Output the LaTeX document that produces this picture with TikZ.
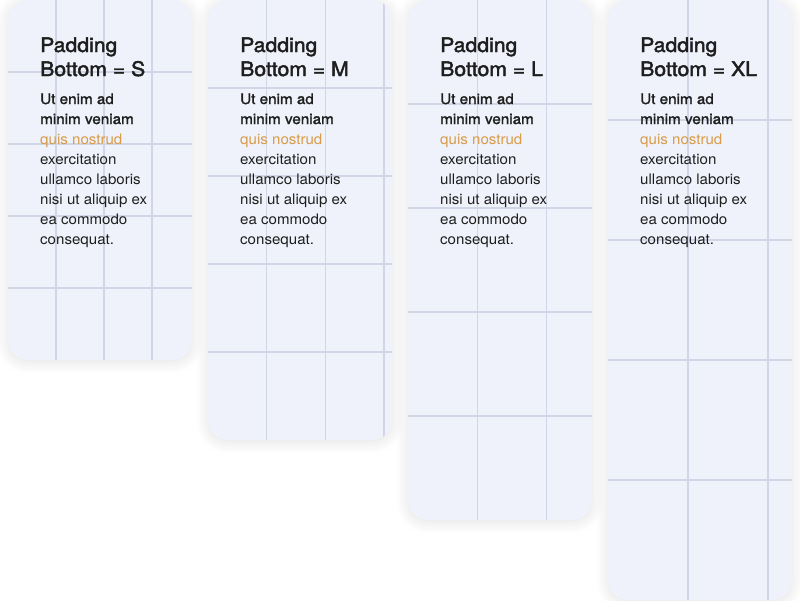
\documentclass[tikz,border=0pt]{standalone}
\usepackage{fontspec}
\setmainfont[FakeStretch=1.04]{TeX Gyre Heros}
\newfontfamily\semifont[FakeBold=1.5,FakeStretch=1.05]{TeX Gyre Heros}
\newfontfamily\headfont[FakeBold=2.2,FakeStretch=1.06]{TeX Gyre Heros}
\usetikzlibrary{shadows.blur}

\definecolor{cardfill}{HTML}{EFF2FA}
\definecolor{gridcol}{HTML}{D1D6E6}
\definecolor{inkcol}{HTML}{1E1E1E}
\definecolor{accent}{HTML}{D89B48}

\tikzset{
  card/.style={fill=cardfill, rounded corners=20,
    blur shadow={shadow xshift=0pt, shadow yshift=-2pt,
      shadow blur radius=12pt, shadow opacity=12, shadow blur steps=12}},
  gridline/.style={draw=gridcol, line width=1.3pt},
  cardtitle/.style={anchor=base west, inner sep=0pt, align=left, text=inkcol,
    font=\headfont\fontsize{20}{24}\selectfont},
  cardbody/.style={anchor=base west, inner sep=0pt, align=left, text=inkcol,
    font=\fontsize{14.5}{20}\selectfont}
}

\newcommand{\cardtext}{\semifont Ut enim ad\\ \semifont minim veniam\\
  \color{accent}quis nostrud\\ exercitation\\ ullamco laboris\\
  nisi ut aliquip ex\\ ea commodo\\ consequat.}

\begin{document}
\begin{tikzpicture}[x=1pt,y=-1pt]
\useasboundingbox (0,0) rectangle (800,600);

% S
\path[card] (8,0) rectangle (192,360);
\begin{scope}
\clip[rounded corners=20] (8,0) rectangle (192,360);
\draw[gridline]
  (56,0) -- (56,360)  (104,0) -- (104,360)  (152,0) -- (152,360)
  (8,72) -- (192,72)  (8,144) -- (192,144)
  (8,216) -- (192,216)  (8,288) -- (192,288);
\end{scope}
% nodes sit on their last baseline
\node[cardtitle] (ts) at (40,76) {Padding\\ Bottom = S};
\node[cardbody] (bs) at (40,244) {\cardtext};

% M
\path[card] (208,0) rectangle (392,440);
\begin{scope}
\clip[rounded corners=20] (208,0) rectangle (392,440);
\draw[gridline]
  (266.7,0) -- (266.7,440)  (325.3,0) -- (325.3,440)  (384,0) -- (384,440)
  (208,88) -- (392,88)  (208,176) -- (392,176)
  (208,264) -- (392,264)  (208,352) -- (392,352);
\end{scope}
\node[cardtitle] (tm) at (240,76) {Padding\\ Bottom = M};
\node[cardbody] (bm) at (240,244) {\cardtext};

% L
\path[card] (408,0) rectangle (592,520);
\begin{scope}
\clip[rounded corners=20] (408,0) rectangle (592,520);
\draw[gridline]
  (477.3,0) -- (477.3,520)  (546.7,0) -- (546.7,520)
  (408,104) -- (592,104)  (408,208) -- (592,208)
  (408,312) -- (592,312)  (408,416) -- (592,416);
\end{scope}
\node[cardtitle] (tl) at (440,76) {Padding\\ Bottom = L};
\node[cardbody] (bl) at (440,244) {\cardtext};

% XL
\path[card] (608,0) rectangle (792,600);
\begin{scope}
\clip[rounded corners=20] (608,0) rectangle (792,600);
\draw[gridline]
  (688,0) -- (688,600)  (768,0) -- (768,600)
  (608,120) -- (792,120)  (608,240) -- (792,240)
  (608,360) -- (792,360)  (608,480) -- (792,480);
\end{scope}
\node[cardtitle] (txl) at (640,76) {Padding\\ Bottom = XL};
\node[cardbody] (bxl) at (640,244) {\cardtext};

\end{tikzpicture}
\end{document}
